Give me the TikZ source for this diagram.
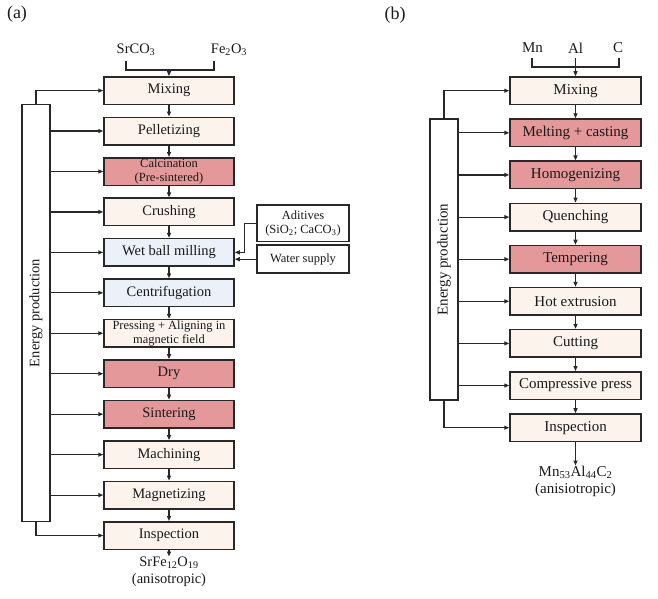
\documentclass[tikz,border=0pt]{standalone}
\usepackage{fontspec}
\setmainfont{Liberation Serif}
\usetikzlibrary{arrows.meta}
\definecolor{cream}{RGB}{252,243,237}
\definecolor{rosy}{RGB}{229,152,153}
\definecolor{paleblue}{RGB}{236,241,249}
\definecolor{edge}{RGB}{40,40,40}
\definecolor{ink}{RGB}{25,25,25}
\tikzset{
  boxa/.style={draw=edge, line width=1.5pt, minimum width=130pt, minimum height=27.5pt,
    inner sep=0pt, align=center, text=ink, font=\fontsize{14.5}{16}\selectfont},
  boxb/.style={boxa, minimum width=131pt, font=\fontsize{15}{17}\selectfont},
  twoline/.style={font=\fontsize{12.5}{13.5}\selectfont},
  ebox/.style={draw=edge, line width=1.5pt, minimum width=28pt, inner sep=0pt, fill=white},
  side/.style={draw=edge, line width=1.5pt, minimum width=92pt, inner sep=0pt, align=center,
    text=ink, font=\fontsize{12.5}{14}\selectfont},
  lbl/.style={text=ink, inner sep=0.5pt, align=center},
  conn/.style={draw=edge, line width=1.2pt},
  arr/.style={conn, -{Triangle[length=5pt,width=4pt]}},
}
\begin{document}
\begin{tikzpicture}[x=1pt,y=-1pt]
\useasboundingbox (0,0) rectangle (658,598);
% ---------------- panel (a) ----------------
\node[lbl, font=\fontsize{18}{20}\selectfont] (pa) at (17,14) {(a)};
\node[lbl, font=\fontsize{14.5}{16}\selectfont] (sr) at (136,50) {SrCO\textsubscript{3}};
\node[lbl, font=\fontsize{14.5}{16}\selectfont] (fe) at (229,50) {Fe\textsubscript{2}O\textsubscript{3}};
\coordinate (bla) at (126,61);
\coordinate (bra) at (214,61);
\coordinate (bma) at (169,70);
\draw[conn] (bla) -- (126,70) -- (214,70) -- (bra);

\node[boxa, fill=cream]    (a1)  at (169,90.6)  {Mixing};
\node[boxa, fill=cream]    (a2)  at (169,131.0) {Pelletizing};
\node[boxa, fill=rosy, twoline] (a3) at (169,171.5) {Calcination\\(Pre-sintered)};
\node[boxa, fill=cream]    (a4)  at (169,211.9) {Crushing};
\node[boxa, fill=paleblue] (a5)  at (169,252.4) {Wet ball milling};
\node[boxa, fill=paleblue] (a6)  at (169,292.8) {Centrifugation};
\node[boxa, fill=cream, twoline] (a7) at (169,333.3) {Pressing + Aligning in\\magnetic field};
\node[boxa, fill=rosy]     (a8)  at (169,373.7) {Dry};
\node[boxa, fill=rosy]     (a9)  at (169,414.2) {Sintering};
\node[boxa, fill=cream]    (a10) at (169,454.6) {Machining};
\node[boxa, fill=cream]    (a11) at (169,495.1) {Magnetizing};
\node[boxa, fill=cream]    (a12) at (169,535.5) {Inspection};

\draw[arr] (bma) -- (a1.north);
\foreach \i/\j in {1/2,2/3,3/4,4/5,5/6,6/7,7/8,8/9,9/10,10/11,11/12}
  \draw[arr] (a\i.south) -- (a\j.north);

\node[ebox, minimum height=417pt] (ea) at (36,313) {};
\node[lbl, rotate=90, font=\fontsize{14.5}{16}\selectfont] (eat) at (ea.center) {Energy production};
\draw[arr] (ea.north) |- (a1.west);
\draw[arr] (ea.south) |- (a12.west);
\foreach \i in {2,...,11}
  \draw[arr] (ea.east |- a\i.west) -- (a\i.west);

\node[side, minimum height=36.5pt] (ad) at (303,223.2) {Aditives\\(SiO\textsubscript{2}; CaCO\textsubscript{3})};
\node[side, minimum height=28pt] (ws) at (303,259.2) {Water supply};
\draw[arr] (ad.west) -- ++(-12,0) |- (a5.east);
\draw[arr] (ws.west) -- (a5.east |- ws.west);

\node[lbl, font=\fontsize{14.5}{17}\selectfont, anchor=north] (oa) at (169,556.5)
  {SrFe\textsubscript{12}O\textsubscript{19}\\(anisotropic)};
\draw[arr] (a12.south) -- (oa.north);

% ---------------- panel (b) ----------------
\node[lbl, font=\fontsize{18}{20}\selectfont] (pb) at (395,15) {(b)};
\node[lbl, font=\fontsize{15}{17}\selectfont] (mn) at (532.5,48) {Mn};
\node[lbl, font=\fontsize{15}{17}\selectfont] (al) at (575.5,48) {Al};
\node[lbl, font=\fontsize{15}{17}\selectfont] (cc) at (618,48) {C};
\coordinate (blb) at (532,58);
\coordinate (brb) at (619,58);
\coordinate (bmb) at (575.5,58);
\draw[conn] (blb) -- (532,67) -- (619,67) -- (brb);

\node[boxb, fill=cream] (b1) at (575.5,90.7)  {Mixing};
\node[boxb, fill=rosy]  (b2) at (575.5,132.8) {Melting + casting};
\node[boxb, fill=rosy]  (b3) at (575.5,174.9) {Homogenizing};
\node[boxb, fill=cream] (b4) at (575.5,217.1) {Quenching};
\node[boxb, fill=rosy]  (b5) at (575.5,259.2) {Tempering};
\node[boxb, fill=cream] (b6) at (575.5,301.3) {Hot extrusion};
\node[boxb, fill=cream] (b7) at (575.5,343.4) {Cutting};
\node[boxb, fill=cream] (b8) at (575.5,385.5) {Compressive press};
\node[boxb, fill=cream] (b9) at (575.5,427.7) {Inspection};

\draw[arr] (bmb) -- (b1.north);
\foreach \i/\j in {1/2,2/3,3/4,4/5,5/6,6/7,7/8,8/9}
  \draw[arr] (b\i.south) -- (b\j.north);

\node[ebox, minimum height=281pt] (eb) at (444,259.5) {};
\node[lbl, rotate=90, font=\fontsize{15}{17}\selectfont] (ebt) at (eb.center) {Energy production};
\draw[arr] (eb.north) |- (b1.west);
\draw[arr] (eb.south) |- (b9.west);
\foreach \i in {2,...,8}
  \draw[arr] (eb.east |- b\i.west) -- (b\i.west);

\node[lbl, font=\fontsize{15}{17}\selectfont, anchor=north] (ob) at (575.5,465.5)
  {Mn\textsubscript{53}Al\textsubscript{44}C\textsubscript{2}\\(anisiotropic)};
\draw[arr] (b9.south) -- (ob.north);
\end{tikzpicture}
\end{document}
